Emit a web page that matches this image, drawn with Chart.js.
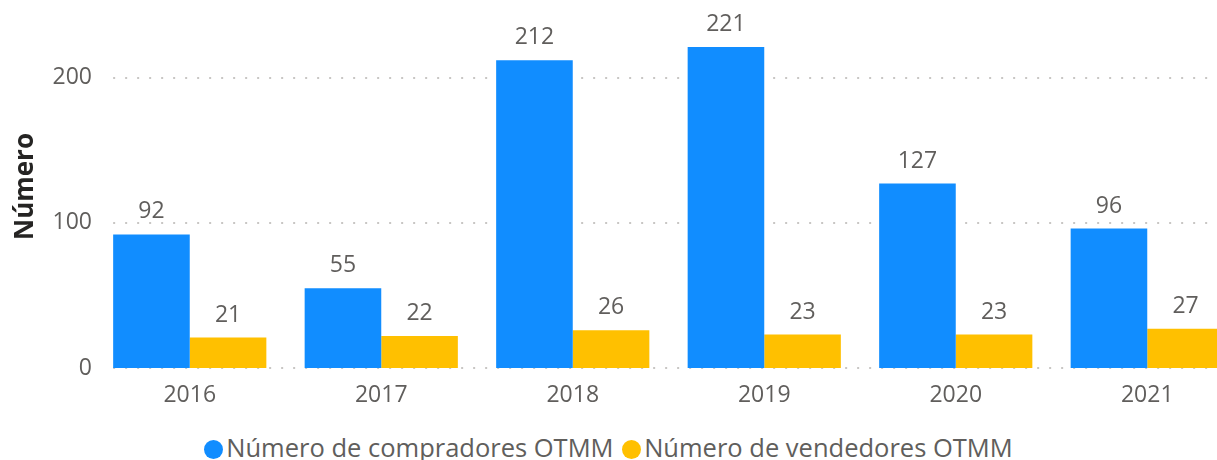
<!DOCTYPE html>
<html>
<head>
<meta charset="utf-8">
<script src="https://cdn.jsdelivr.net/npm/chart.js@4"></script>
<style>
  body { margin: 0; background: #fff; font-family: "Open Sans", sans-serif; }
  #wrap { position: relative; width: 1217px; height: 460px; overflow: hidden; }
  #legend { position: absolute; left: 0; top: 429px; width: 1217px; text-align: center;
    font-size: 25.5px; color: #605e5c; white-space: nowrap; line-height: 36px; }
  .dot { display: inline-block; width: 19px; height: 19px; border-radius: 50%; vertical-align: -2px; margin-right: 3px; }
  .item { margin: 0 1px; }
</style>
</head>
<body>
<div id="wrap">
  <canvas id="c" width="1243" height="420"></canvas>
  <div id="legend"></div>
</div>
<script>
const years = ["2016", "2017", "2018", "2019", "2020", "2021"];
const compradores = [92, 55, 212, 221, 127, 96];
const vendedores = [21, 22, 26, 23, 23, 27];
const seriesNames = ["Número de compradores OTMM", "Número de vendedores OTMM"];
const colors = ["#118DFF", "#FFC000"];
const yTicks = [0, 100, 200];

const font = "'Open Sans', sans-serif";
const grey = "#605e5c";

// legend as html, centered on the visible width
const legend = document.getElementById("legend");
legend.innerHTML = seriesNames.map((n, i) =>
  `<span class="item"><span class="dot" style="background:${colors[i]}"></span>${n}</span>`
).join(" ");

// dotted gridlines starting at the first bar
const gridPlugin = {
  id: "dotGrid",
  beforeDatasetsDraw(chart) {
    const { ctx, chartArea, scales } = chart;
    const first = chart.getDatasetMeta(0).data[0];
    const x0 = first.x - first.width / 2;
    ctx.save();
    ctx.strokeStyle = "#c8c6c4";
    ctx.lineWidth = 2;
    ctx.setLineDash([2, 10]);
    yTicks.forEach(v => {
      const y = Math.round(scales.y.getPixelForValue(v));
      ctx.beginPath();
      ctx.moveTo(x0, y);
      ctx.lineTo(chartArea.right, y);
      ctx.stroke();
    });
    ctx.restore();
  }
};

const labelPlugin = {
  id: "barLabels",
  afterDatasetsDraw(chart) {
    const ctx = chart.ctx;
    ctx.save();
    ctx.font = "23px " + font;
    ctx.fillStyle = grey;
    ctx.textAlign = "center";
    ctx.textBaseline = "alphabetic";
    chart.data.datasets.forEach((ds, i) => {
      chart.getDatasetMeta(i).data.forEach((bar, j) => {
        ctx.fillText(ds.data[j], bar.x, bar.y - 16);
      });
    });
    ctx.restore();
  }
};

new Chart(document.getElementById("c"), {
  type: "bar",
  data: {
    labels: years,
    datasets: [
      { label: seriesNames[0], data: compradores, backgroundColor: colors[0] },
      { label: seriesNames[1], data: vendedores, backgroundColor: colors[1] }
    ]
  },
  options: {
    responsive: false,
    animation: false,
    layout: { padding: { top: 5, left: 0, right: 0, bottom: 0 } },
    datasets: { bar: { categoryPercentage: 0.8, barPercentage: 1 } },
    plugins: { legend: { display: false }, tooltip: { enabled: false } },
    scales: {
      x: {
        grid: { display: false, drawTicks: false, tickLength: 0 },
        border: { display: false },
        ticks: { color: grey, font: { family: font, size: 23 }, padding: 14 },
        afterFit: s => { s.height = 52; s.paddingLeft = 0; s.paddingRight = 0; }
      },
      y: {
        min: 0,
        max: 250,
        grid: { display: false, drawTicks: false, tickLength: 0 },
        border: { display: false },
        ticks: { color: grey, font: { family: font, size: 23 }, padding: 2, stepSize: 100 },
        afterBuildTicks: s => { s.ticks = yTicks.map(v => ({ value: v })); },
        title: { display: true, text: "Número", color: "#252423",
          font: { family: font, size: 26, weight: "bold" }, padding: { top: 10, bottom: 0 } },
        afterFit: s => { s.width = 94; s.paddingTop = 0; s.paddingBottom = 0; }
      }
    }
  },
  plugins: [gridPlugin, labelPlugin]
});
</script>
</body>
</html>
